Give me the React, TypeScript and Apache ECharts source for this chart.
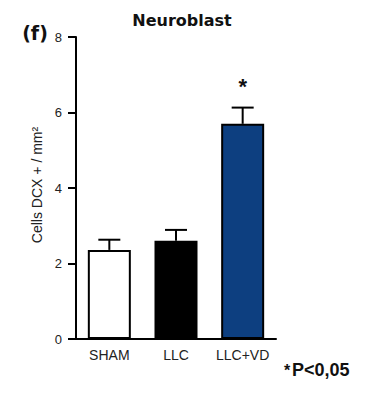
import React, { useEffect, useRef } from "react";
import * as echarts from "echarts";

const categories = ["SHAM", "LLC", "LLC+VD"];
const means = [2.36, 2.6, 5.7];
const errors = [0.27, 0.29, 0.43];
const significance = ["", "", "*"];
const fills = ["#ffffff", "#000000", "#0d3f80"];
const yTicks = [0, 2, 4, 6, 8];

export default function App() {
  const ref = useRef<HTMLDivElement>(null);
  useEffect(() => {
    if (!ref.current) return;
    const chart = echarts.init(ref.current, null, { renderer: "svg" });
    const errData = means.map((m, i) => [i, m, m + errors[i]]);
    chart.setOption({
      animation: false,
      backgroundColor: "#ffffff",
      title: {
        text: "Neuroblast",
        left: 177,
        top: 7,
        textAlign: "center",
        textStyle: { fontFamily: "DejaVu Sans", fontWeight: "bold", fontSize: 16, color: "#111" },
      },
      grid: { left: 76, right: 95, top: 37, bottom: 54 },
      xAxis: {
        type: "category",
        data: categories,
        axisLine: { lineStyle: { color: "#000", width: 2 } },
        axisTick: { alignWithLabel: true, length: 6, lineStyle: { color: "#000", width: 2 } },
        axisLabel: { interval: 0, color: "#222", fontSize: 14, fontFamily: "Liberation Sans", margin: 9 },
      },
      yAxis: {
        type: "value",
        min: yTicks[0],
        max: yTicks[yTicks.length - 1],
        interval: 2,
        axisLine: { show: true, lineStyle: { color: "#000", width: 2 } },
        axisTick: { show: true, length: 8, lineStyle: { color: "#000", width: 2 } },
        splitLine: { show: false },
        axisLabel: { color: "#222", fontSize: 13, fontFamily: "Liberation Sans", margin: 14 },
      },
      series: [
        {
          type: "bar",
          barWidth: 43,
          data: means.map((v, i) => ({
            value: v,
            itemStyle: { color: fills[i], borderColor: "#000", borderWidth: 2 },
          })),
          z: 2,
        },
        {
          type: "custom",
          data: errData,
          z: 3,
          renderItem: (params: any, api: any) => {
            const i = api.value(0);
            const lo = api.coord([i, api.value(1)]);
            const hi = api.coord([i, api.value(2)]);
            const half = 11;
            const children: any[] = [
              { type: "line", shape: { x1: lo[0], y1: lo[1], x2: hi[0], y2: hi[1] }, style: { stroke: "#000", lineWidth: 2 } },
              { type: "line", shape: { x1: hi[0] - half, y1: hi[1], x2: hi[0] + half, y2: hi[1] }, style: { stroke: "#000", lineWidth: 2 } },
            ];
            const s = significance[params.dataIndex];
            if (s) {
              children.push({
                type: "text",
                x: hi[0],
                y: hi[1] - 10,
                style: { text: s, fontSize: 22, fontWeight: "bold", fontFamily: "Liberation Sans", fill: "#111", align: "center", verticalAlign: "bottom" },
              });
            }
            return { type: "group", children };
          },
        },
      ],
      graphic: [
        {
          type: "text",
          x: 35,
          y: 33,
          style: { text: "(f)", fontFamily: "DejaVu Sans", fontWeight: "bold", fontSize: 19, fill: "#111", align: "center", verticalAlign: "middle" },
        },
        {
          type: "text",
          x: 37,
          y: 185,
          rotation: Math.PI / 2,
          style: { text: "Cells DCX + / mm²", fontFamily: "Liberation Sans", fontSize: 14, fill: "#222", align: "center", verticalAlign: "middle" },
        },
        {
          type: "text",
          x: 284,
          y: 362,
          style: { text: "*", fontFamily: "Liberation Sans", fontWeight: "bold", fontSize: 16, fill: "#111", align: "left", verticalAlign: "top" },
        },
        {
          type: "text",
          x: 292,
          y: 370,
          style: { text: "P<0,05", fontFamily: "Liberation Sans", fontWeight: "bold", fontSize: 18, fill: "#111", align: "left", verticalAlign: "middle" },
        },
      ],
    });
    return () => chart.dispose();
  }, []);
  return <div ref={ref} style={{ width: 371, height: 393, position: "absolute", left: 0, top: 0 }} />;
}
